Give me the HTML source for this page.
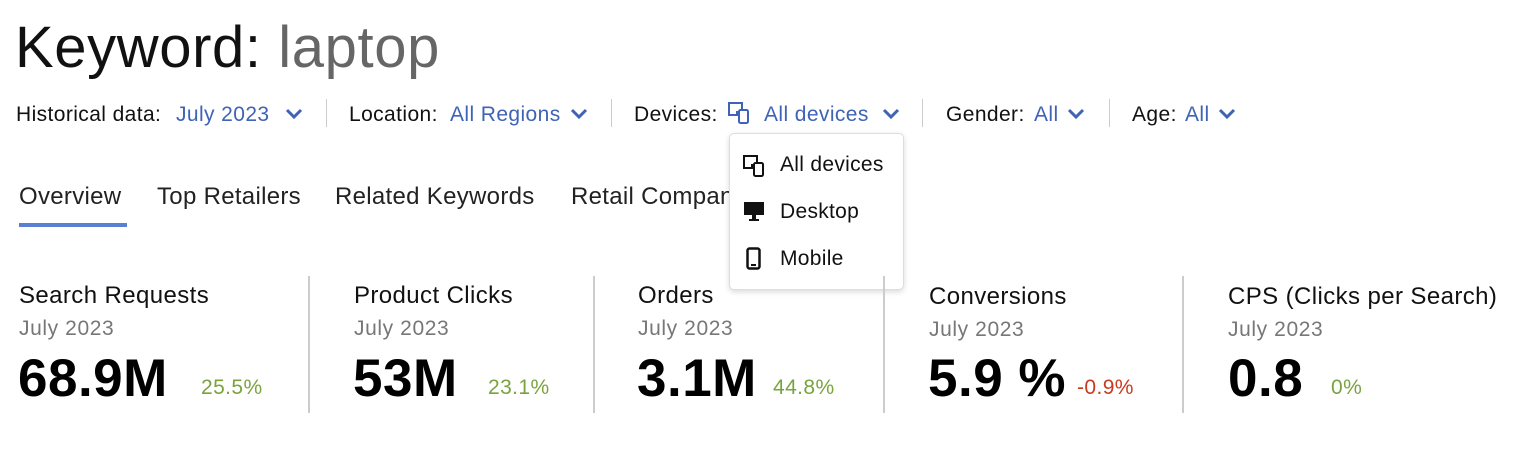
<!DOCTYPE html>
<html><head><meta charset="utf-8"><style>
body{margin:0;width:1514px;height:452px;background:#fff;font-family:"Liberation Sans",sans-serif;position:relative;overflow:hidden;color:#111}
.a{position:absolute;white-space:nowrap}
.f{font-size:21px;top:103px;letter-spacing:0.4px}
.b{color:#3f63b5}
.sep{position:absolute;top:99px;width:1px;height:28px;background:#ccc}
.chev{position:absolute;top:107px}
.tab{font-size:24px;top:183px;color:#222;letter-spacing:0.3px}
.ct{font-size:24px;top:282px;color:#111;letter-spacing:0.4px}
.cs{font-size:21px;top:317px;color:#777;letter-spacing:0.6px}
.cv{font-size:53px;font-weight:bold;top:348px;color:#000;letter-spacing:0.5px}
.cp{font-size:21px;top:376px;letter-spacing:0.4px}
.g{color:#7aa33f}.r{color:#c9391f}
.vd{position:absolute;top:276px;width:2px;height:137px;background:#ccc}
</style></head><body>
<div class="a" style="left:15px;top:14px;font-size:58px;letter-spacing:0.6px">Keyword: <span style="color:#666">laptop</span></div>

<div class="a f" style="left:16px">Historical data:</div>
<div class="a f b" style="left:176px">July 2023</div>
<svg class="chev" style="left:285px" width="18" height="14"><path d="M2 3 L9 10 L16 3" stroke="#3f63b5" stroke-width="3" fill="none"/></svg>
<div class="sep" style="left:326px"></div>
<div class="a f" style="left:349px">Location:</div>
<div class="a f b" style="left:450px">All Regions</div>
<svg class="chev" style="left:570px" width="18" height="14"><path d="M2 3 L9 10 L16 3" stroke="#3f63b5" stroke-width="3" fill="none"/></svg>
<div class="sep" style="left:611px"></div>
<div class="a f" style="left:634px">Devices:</div>
<svg class="a" style="left:728px;top:102px" width="24" height="22"><path d="M1 1h13v9H9v3H1z" fill="none" stroke="#3f63b5" stroke-width="2"/><rect x="11" y="8" width="9" height="13" rx="1.5" fill="#fff" stroke="#3f63b5" stroke-width="2"/></svg>
<div class="a f b" style="left:764px">All devices</div>
<svg class="chev" style="left:882px" width="18" height="14"><path d="M2 3 L9 10 L16 3" stroke="#3f63b5" stroke-width="3" fill="none"/></svg>
<div class="sep" style="left:922px"></div>
<div class="a f" style="left:946px">Gender:</div>
<div class="a f b" style="left:1034px">All</div>
<svg class="chev" style="left:1067px" width="18" height="14"><path d="M2 3 L9 10 L16 3" stroke="#3f63b5" stroke-width="3" fill="none"/></svg>
<div class="sep" style="left:1109px"></div>
<div class="a f" style="left:1132px">Age:</div>
<div class="a f b" style="left:1185px">All</div>
<svg class="chev" style="left:1218px" width="18" height="14"><path d="M2 3 L9 10 L16 3" stroke="#3f63b5" stroke-width="3" fill="none"/></svg>

<div class="a tab" style="left:19px">Overview</div>
<div class="a tab" style="left:157px">Top Retailers</div>
<div class="a tab" style="left:335px">Related Keywords</div>
<div class="a tab" style="left:571px">Retail Companies</div>
<div class="a" style="left:19px;top:223px;width:108px;height:4px;background:#5b80d3"></div>

<div class="a" style="left:729px;top:133px;width:173px;height:155px;background:#fff;border:1px solid #ddd;border-radius:5px;box-shadow:0 2px 6px rgba(0,0,0,0.15)">
<svg class="a" style="left:13px;top:21px" width="24" height="22"><path d="M1 1h13v9H9v3H1z" fill="none" stroke="#111" stroke-width="2"/><rect x="11" y="8" width="9" height="13" rx="1.5" fill="#fff" stroke="#111" stroke-width="2"/></svg>
<div class="a" style="left:50px;top:19px;font-size:21px;letter-spacing:0.3px">All devices</div>
<svg class="a" style="left:13px;top:67px" width="24" height="22"><rect x="1" y="1" width="20" height="13" fill="#111"/><rect x="9" y="14" width="4" height="4" fill="#111"/><rect x="6" y="18" width="10" height="2" fill="#111"/></svg>
<div class="a" style="left:50px;top:66px;font-size:21px;letter-spacing:0.3px">Desktop</div>
<svg class="a" style="left:16px;top:113px" width="16" height="24"><rect x="1.5" y="1.5" width="12" height="20" rx="2" fill="none" stroke="#111" stroke-width="2.5"/><rect x="5" y="17" width="5" height="2" fill="#111"/></svg>
<div class="a" style="left:50px;top:113px;font-size:21px;letter-spacing:0.3px">Mobile</div>
</div>

<div class="a ct" style="left:19px">Search Requests</div>
<div class="a cs" style="left:19px">July 2023</div>
<div class="a cv" style="left:18px">68.9M</div>
<div class="a cp g" style="left:201px">25.5%</div>
<div class="vd" style="left:308px"></div>

<div class="a ct" style="left:354px">Product Clicks</div>
<div class="a cs" style="left:354px">July 2023</div>
<div class="a cv" style="left:353px">53M</div>
<div class="a cp g" style="left:488px">23.1%</div>
<div class="vd" style="left:593px"></div>

<div class="a ct" style="left:638px">Orders</div>
<div class="a cs" style="left:638px">July 2023</div>
<div class="a cv" style="left:637px">3.1M</div>
<div class="a cp g" style="left:773px">44.8%</div>
<div class="vd" style="left:883px"></div>

<div class="a ct" style="left:929px;top:283px">Conversions</div>
<div class="a cs" style="left:929px;top:318px">July 2023</div>
<div class="a cv" style="left:928px">5.9 %</div>
<div class="a cp r" style="left:1077px">-0.9%</div>
<div class="vd" style="left:1182px"></div>

<div class="a ct" style="left:1228px;top:283px">CPS (Clicks per Search)</div>
<div class="a cs" style="left:1228px;top:318px">July 2023</div>
<div class="a cv" style="left:1228px">0.8</div>
<div class="a cp g" style="left:1331px">0%</div>
</body></html>
